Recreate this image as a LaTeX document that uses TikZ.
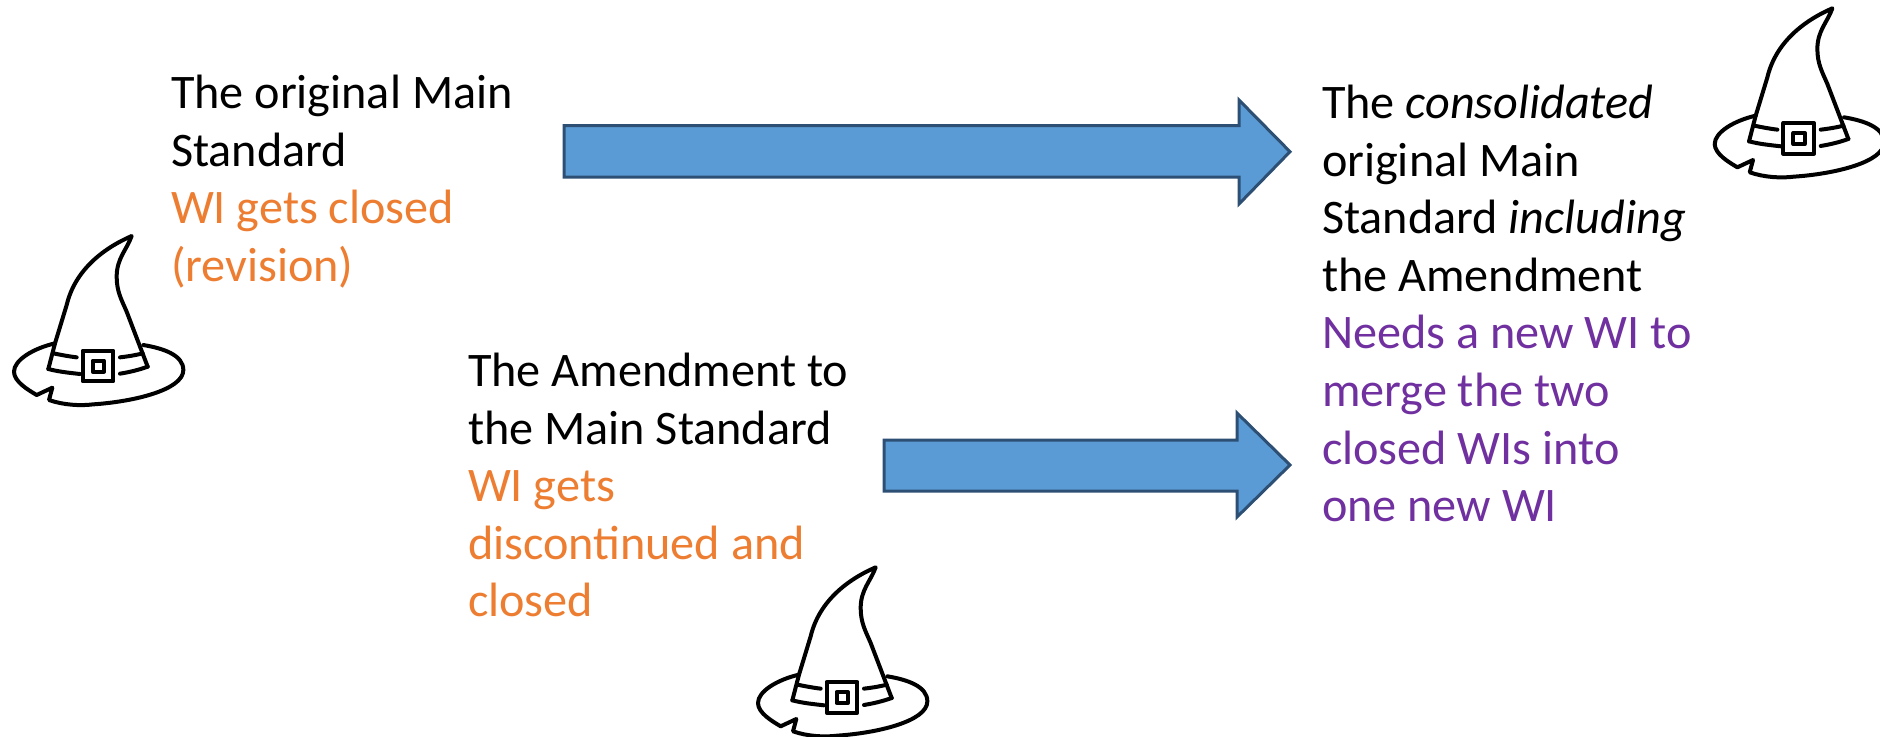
\documentclass[tikz,border=0pt]{standalone}
\usepackage{fontspec}
\setmainfont{Carlito}
\definecolor{wiorange}{HTML}{ED7D31}
\definecolor{wipurple}{HTML}{7030A0}
\definecolor{arrowfill}{HTML}{5B9BD5}
\definecolor{arrowline}{HTML}{2C4F73}
\tikzset{
  blockarrow/.style={fill=arrowfill,draw=arrowline,line width=1.5pt,miter limit=10},
  label/.style={anchor=north west,align=left,inner sep=0pt,outer sep=0pt,
    font=\fontsize{24.1}{28.8}\selectfont},
  hatline/.style={draw=black,line width=2pt,line cap=round,line join=round},
  pics/witchhat/.style={code={
    \begin{scope}[x=0.16667pt,y=-0.16667pt]
      % cone
      \draw[hatline] (145,447) -- (165,370) -- (200,255)
        .. controls (225,150) and (310,85) .. (395,48)
        .. controls (380,90) and (350,115) .. (350,170)
        .. controls (350,215) and (365,240) .. (380,275)
        -- (443,440);
      % band
      \draw[hatline] (145,447) .. controls (175,455) and (205,458) .. (240,462);
      \draw[hatline] (443,440) .. controls (415,450) and (390,456) .. (360,461);
      \draw[hatline] (160,400) .. controls (185,405) and (205,409) .. (230,412);
      \draw[hatline] (428,400) .. controls (405,406) and (385,409) .. (360,412);
      % buckle
      \draw[hatline] (248,392) rectangle (340,484);
      \draw[hatline] (278,422) rectangle (312,455);
      % brim
      \draw[hatline] (165,370) .. controls (100,385) and (42,420) .. (42,455)
        .. controls (42,485) and (85,510) .. (110,525)
        -- (157,503) -- (147,540)
        .. controls (190,555) and (240,558) .. (280,553)
        .. controls (400,545) and (550,510) .. (550,450)
        .. controls (550,405) and (490,385) .. (430,375);
    \end{scope}
  }}
}
\begin{document}
\begin{tikzpicture}[x=0.5pt,y=-0.5pt]
  \useasboundingbox (0,0) rectangle (1880,736);
  \draw[blockarrow] (564,125.7) -- (1239,125.7) -- (1239,100) -- (1290,151.7)
    -- (1239,204) -- (1239,177) -- (564,177) -- cycle;
  \draw[blockarrow] (884,440) -- (1237,440) -- (1237,413) -- (1290,465)
    -- (1237,517) -- (1237,491) -- (884,491) -- cycle;
  \node[label] (main) at (171,75) {The original Main\\Standard\\
    \textcolor{wiorange}{WI gets closed}\\\textcolor{wiorange}{(revision)}};
  \node[label] (amend) at (468,353) {The Amendment to\\the Main Standard\\
    \textcolor{wiorange}{WI gets}\\\textcolor{wiorange}{discontinued and}\\\textcolor{wiorange}{closed}};
  \node[label] (cons) at (1322,85) {The \textit{consolidated}\\original Main\\Standard \textit{including}\\the Amendment\\
    \textcolor{wipurple}{Needs a new WI to}\\\textcolor{wipurple}{merge the two}\\\textcolor{wipurple}{closed WIs into}\\\textcolor{wipurple}{one new WI}};
  \pic (hata) at (0,220) {witchhat};
  \pic (hatb) at (1700.7,-7.7) {witchhat};
  \pic (hatc) at (744,551.3) {witchhat};
\end{tikzpicture}
\end{document}
